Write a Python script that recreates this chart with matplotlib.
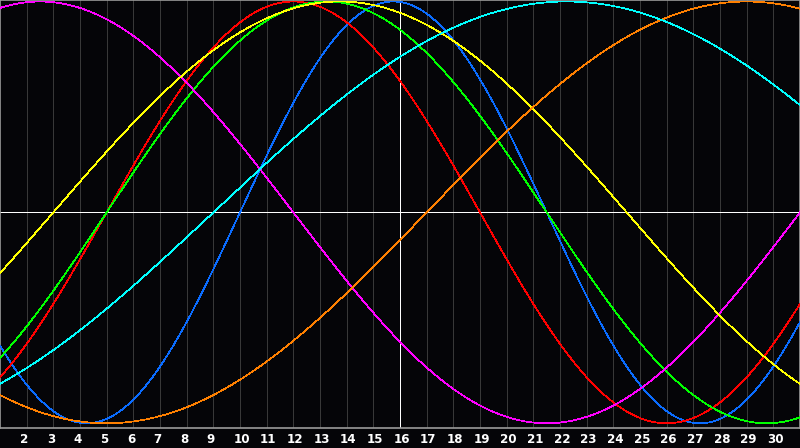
import numpy as np
import matplotlib
matplotlib.use("Agg")
import matplotlib.pyplot as plt
from matplotlib.transforms import offset_copy

# Cycle data
cycle_names = ["Physical", "Emotional", "Intellectual", "Intuitive",
               "Aesthetic", "Awareness", "Spiritual"]
periods = [23, 28, 33, 38, 43, 48, 53]           # days
rising_day = [10, 5, 5, -7, 3, 17, 9]            # day where curve crosses 0 going up
colors = ["#0a6cff", "#ff0000", "#00ff00", "#ff00ff",
          "#ffff00", "#ff8000", "#00ffff"]

days = list(range(1, 32))
tick_labels = [str(d) for d in range(2, 31)]
today = 16

W, H = 800, 448
fig = plt.figure(figsize=(W / 100, H / 100), dpi=100)
fig.patch.set_facecolor("#050508")
plot_h = 428
ax = fig.add_axes([0, (H - plot_h) / H, 1, plot_h / H])
ax.set_facecolor("#050508")

ymin, ymax = -1.0223, 1.0071
ax.set_xlim(days[0], days[-1])
ax.set_ylim(ymin, ymax)

# vertical day grid
for d in days[1:-1]:
    ax.axvline(d, color="#383838", lw=0.6, zorder=1, antialiased=False)

# today and zero lines
ax.axvline(today, color="white", lw=0.7, zorder=2, antialiased=False)
ax.axhline(0, color="white", lw=0.6, zorder=2, antialiased=False)

t = np.linspace(days[0], days[-1], 3000)
for p, r, c in zip(periods, rising_day, colors):
    ax.plot(t, np.sin(2 * np.pi * (t - r) / p), color=c, lw=0.5,
            zorder=3, antialiased=False)

for s in ax.spines.values():
    s.set_color("#9a9a9a")
    s.set_linewidth(1.2)

ax.set_xticks([])
ax.set_yticks([])

trans = offset_copy(ax.transData, fig=fig, x=-6.5, y=-5, units="dots")
for lab in tick_labels:
    d = int(lab)
    ax.text(d, ymin, lab, transform=trans, ha="left", va="top",
            color="white", fontsize=8.6, fontweight="bold",
            family="DejaVu Sans", clip_on=False)

fig.savefig("out.png", dpi=100, facecolor=fig.get_facecolor())
